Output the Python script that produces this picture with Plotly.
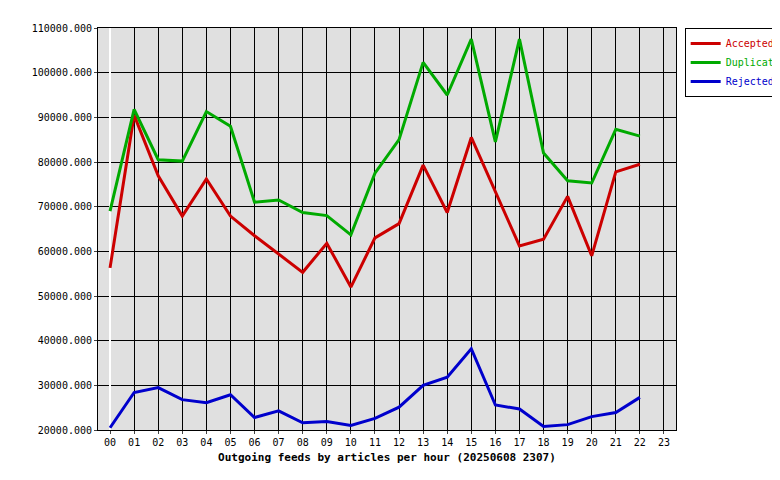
import plotly.graph_objects as go

hours = ["%02d" % h for h in range(24)]
accepted = [56300, 90500, 76900, 67900, 76200, 67900, 63500, 59500, 55300, 61800, 52000, 63000,
            66200, 79300, 68700, 85500, 73500, 61200, 62700, 72300, 59000, 77800, 79500]
duplicates = [69000, 91800, 80500, 80200, 91300, 88000, 71000, 71500, 68700, 68000, 63700, 77500,
              85000, 102300, 95000, 107500, 84500, 107500, 82000, 75800, 75300, 87300, 85800]
rejected = [20500, 28400, 29500, 26800, 26100, 27900, 22800, 24300, 21600, 21900, 21000, 22600,
            25100, 30000, 31800, 38200, 25600, 24700, 20800, 21200, 23000, 23900, 27300]
y_ticks = list(range(20000, 110001, 10000))

fig = go.Figure()
for name, vals, col in [("Accepted", accepted, "#cc0000"),
                        ("Duplicates", duplicates, "#00aa00"),
                        ("Rejected", rejected, "#0000cc")]:
    fig.add_trace(go.Scatter(x=list(range(len(vals))), y=vals,
                             name='<span style="color:%s">%s</span>' % (col, name),
                             mode="lines", line=dict(color=col, width=3)))

font = dict(family="DejaVu Sans Mono", size=10, color="black")
fig.update_layout(
    width=780, height=480, margin=dict(l=90, r=112, t=20, b=58, autoexpand=False),
    paper_bgcolor="white", plot_bgcolor="#e0e0e0", font=font,
    legend=dict(x=1.015, y=1.0, xanchor="left", yanchor="top", bordercolor="black",
                borderwidth=1, font=dict(family="DejaVu Sans Mono", size=10),
                itemwidth=30, tracegroupgap=0),
)
fig.update_xaxes(range=[-0.5, 23.5], tickvals=list(range(24)), ticktext=hours,
                 showgrid=True, gridcolor="black", gridwidth=1, showline=True,
                 linecolor="black", mirror=True, ticks="outside", ticklen=3, automargin=False,
                 title=dict(text="<b>Outgoing feeds by articles per hour (20250608 2307)</b>",
                            font=dict(family="DejaVu Sans Mono", size=11), standoff=6))
fig.update_yaxes(range=[20000, 110000], tickvals=y_ticks,
                 ticktext=["%d.000" % v for v in y_ticks], automargin=False,
                 showgrid=True, gridcolor="black", gridwidth=1, showline=True,
                 linecolor="black", mirror=True, ticks="outside", ticklen=3)
fig.write_html("out.html")
